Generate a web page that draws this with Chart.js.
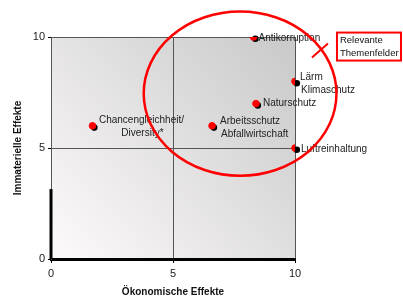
<!DOCTYPE html>
<html>
<head>
<meta charset="utf-8">
<script src="https://cdn.jsdelivr.net/npm/chart.js@4"></script>
<style>
  html, body { margin: 0; padding: 0; background: #fff; }
  #wrap { width: 403px; height: 298px; }
</style>
</head>
<body>
<div id="wrap"><canvas id="chart"></canvas></div>
<script>
// ---------- DATA ----------
const topics = [
  ["Chancengleichheit/", "Diversity*"],
  ["Arbeitsschutz", "Abfallwirtschaft"],
  ["Naturschutz"],
  ["Antikorruption"],
  ["Lärm", "Klimaschutz"],
  ["Luftreinhaltung"],
];
const economic = [1.7, 6.6, 8.4, 8.3, 10, 10];
const immaterial = [6, 6, 7, 10, 8, 5];
const tickValues = [0, 5, 10];
const calloutText = ["Relevante", "Themenfelder"];

// label placement (pixels relative to point)
const labelStyle = [
  { dx: 49, dy: -6, align: "center" },
  { dx: 8, dy: -5, align: "left" },
  { dx: 7, dy: 0, align: "left" },
  { dx: 5, dy: 1, align: "left" },
  { dx: 5, dy: -4, align: "left" },
  { dx: 6, dy: 1, align: "left" },
];

const FONT = "'Liberation Sans', Arial, sans-serif";

// ---------- PLUGINS ----------
const backdrop = {
  id: "backdrop",
  beforeDraw(chart) {
    const { ctx, chartArea: a } = chart;
    const g = ctx.createLinearGradient(a.left, a.bottom, a.right, a.top);
    g.addColorStop(0, "#fdfafc");
    g.addColorStop(1, "#c9c9c9");
    ctx.save();
    ctx.fillStyle = g;
    ctx.fillRect(a.left, a.top, a.right - a.left, a.bottom - a.top);
    ctx.restore();
  },
  beforeDatasetsDraw(chart) {
    // black shadow behind the red dots
    const { ctx } = chart;
    const meta = chart.getDatasetMeta(0);
    ctx.save();
    ctx.fillStyle = "#000";
    meta.data.forEach((p) => {
      ctx.beginPath();
      ctx.arc(p.x + 1.8, p.y + 1.8, 3.3, 0, Math.PI * 2);
      ctx.fill();
    });
    ctx.restore();
  },
  afterDraw(chart) {
    const { ctx, scales } = chart;
    const xs = scales.x, ys = scales.y;
    const meta = chart.getDatasetMeta(0);
    ctx.save();

    // left axis heavy segment
    ctx.strokeStyle = "#000";
    ctx.lineWidth = 3;
    ctx.beginPath();
    ctx.moveTo(xs.getPixelForValue(0), ys.getPixelForValue(0));
    ctx.lineTo(xs.getPixelForValue(0), ys.getPixelForValue(3.15));
    ctx.stroke();

    // point labels
    ctx.fillStyle = "#222";
    ctx.font = "10px " + FONT;
    ctx.textBaseline = "middle";
    meta.data.forEach((p, i) => {
      const s = labelStyle[i];
      ctx.textAlign = s.align;
      topics[i].forEach((line, j) => {
        ctx.fillText(line, p.x + s.dx + (j ? 1 : 0), p.y + s.dy + j * 13);
      });
    });

    // red ellipse around the relevant topics
    const cx = xs.getPixelForValue(7.75), cy = ys.getPixelForValue(7.45);
    const rx = xs.getPixelForValue(7.75 + 3.95) - cx;
    const ry = cy - ys.getPixelForValue(7.45 + 3.7);
    ctx.strokeStyle = "#ff0000";
    ctx.lineWidth = 2.5;
    ctx.beginPath();
    ctx.ellipse(cx, cy, rx, ry, 0, 0, Math.PI * 2);
    ctx.stroke();

    // callout
    const bx = xs.getPixelForValue(11.72), by = ys.getPixelForValue(10.2);
    ctx.lineWidth = 2;
    ctx.strokeRect(bx, by, 64, 28);
    ctx.beginPath();
    ctx.moveTo(bx - 9, by + 11);
    ctx.lineTo(bx - 25, by + 25);
    ctx.stroke();
    ctx.fillStyle = "#111";
    ctx.textAlign = "left";
    ctx.font = "9.5px " + FONT;
    calloutText.forEach((t, j) => ctx.fillText(t, bx + 3, by + 8 + j * 13));

    ctx.restore();
  },
};

// ---------- CHART ----------
const gridColor = (c) => (c.tick.value === 5 || c.tick.value === 10 ? "#555" : "rgba(0,0,0,0)");

new Chart(document.getElementById("chart"), {
  type: "scatter",
  data: {
    datasets: [
      {
        data: economic.map((x, i) => ({ x, y: immaterial[i] })),
        backgroundColor: "#ff0000",
        borderColor: "#ff0000",
        pointRadius: 3.3,
        pointHoverRadius: 3.3,
      },
    ],
  },
  options: {
    responsive: true,
    maintainAspectRatio: false,
    animation: false,
    events: [],
    layout: { padding: { top: 37, right: 108, left: 12, bottom: 0 } },
    plugins: { legend: { display: false }, tooltip: { enabled: false } },
    scales: {
      x: {
        min: 0,
        max: 10,
        afterBuildTicks: (s) => { s.ticks = tickValues.map((v) => ({ value: v })); },
        afterFit: (s) => { s.height = 39; },
        grid: { color: gridColor, tickColor: "#000", tickLength: 4, lineWidth: 1 },
        border: { color: "#000", width: 3 },
        ticks: { color: "#222", font: { family: FONT, size: 11 }, padding: 4 },
        title: {
          display: true,
          text: "Ökonomische Effekte",
          color: "#111",
          font: { family: FONT, size: 10, weight: "bold" },
          padding: { top: 3, bottom: 0 },
        },
      },
      y: {
        min: 0,
        max: 10,
        afterBuildTicks: (s) => { s.ticks = tickValues.map((v) => ({ value: v })); },
        afterFit: (s) => { s.width = 39; },
        grid: { color: gridColor, tickColor: "#000", tickLength: 3, lineWidth: 1 },
        border: { color: "#555", width: 1 },
        ticks: { color: "#222", font: { family: FONT, size: 11 }, padding: 3 },
        title: {
          display: true,
          text: "Immaterielle Effekte",
          color: "#111",
          font: { family: FONT, size: 10, weight: "bold" },
          padding: { top: 0, bottom: 6 },
        },
      },
    },
  },
  plugins: [backdrop],
});
</script>
</body>
</html>
